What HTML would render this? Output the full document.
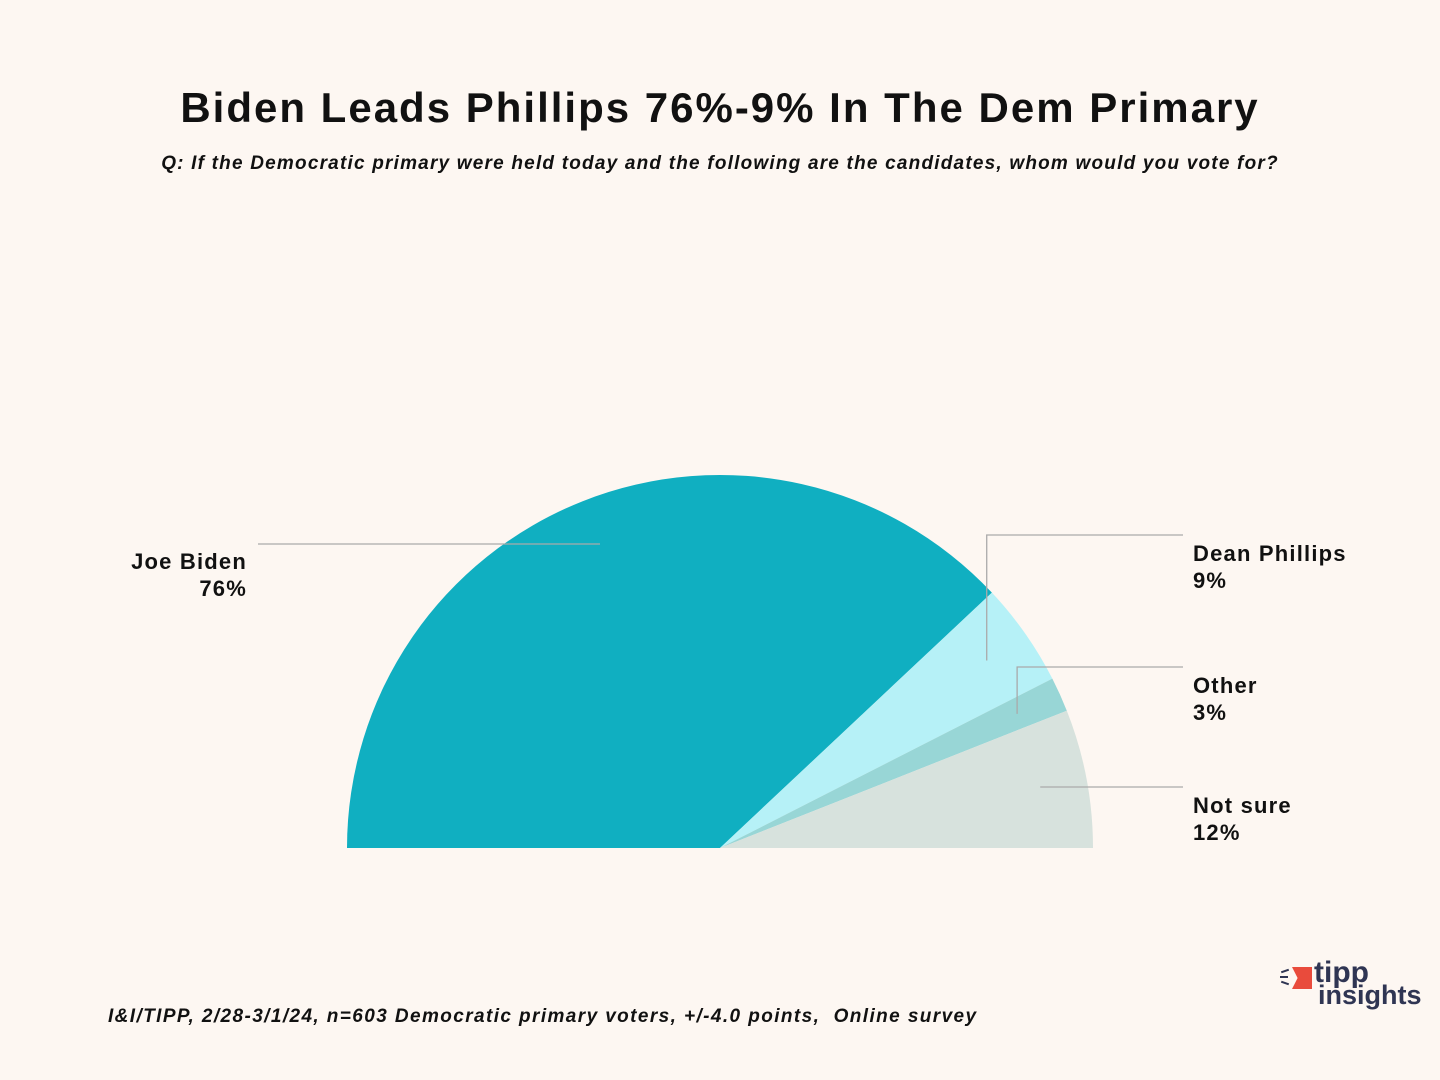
<!DOCTYPE html>
<html><head><meta charset="utf-8"><style>
body{margin:0;background:#fdf7f2;}
#c{position:relative;width:1440px;height:1080px;background:#fdf7f2;font-family:"Liberation Sans",sans-serif;color:#111;}
.t{position:absolute;white-space:nowrap;}
</style></head><body>
<div id="c">
<div class="t" style="left:0;width:1440px;text-align:center;top:84px;font-size:42px;font-weight:bold;letter-spacing:2px;">Biden Leads Phillips 76%-9% In The Dem Primary</div>
<div class="t" style="left:0;width:1440px;text-align:center;top:153px;font-size:19px;font-weight:bold;font-style:italic;letter-spacing:1.2px;">Q: If the Democratic primary were held today and the following are the candidates, whom would you vote for?</div>
<svg id="pie" width="1440" height="1080" style="position:absolute;left:0;top:0"></svg>
<div class="t" style="left:108px;top:1006px;font-size:19px;font-weight:bold;font-style:italic;letter-spacing:1.4px;">I&amp;I/TIPP, 2/28-3/1/24, n=603 Democratic primary voters, +/-4.0 points,&nbsp; Online survey</div>
<div style="position:absolute;left:1280px;top:962px;">
<div style="position:absolute;left:1px;top:8px;width:8px;height:2px;background:#2f3553;transform:rotate(-20deg);"></div>
<div style="position:absolute;left:0px;top:14px;width:8px;height:2px;background:#2f3553;"></div>
<div style="position:absolute;left:1px;top:20px;width:8px;height:2px;background:#2f3553;transform:rotate(20deg);"></div>
<div style="position:absolute;left:12px;top:5px;width:20px;height:22px;background:#e94b3c;clip-path:polygon(0 0,100% 0,100% 100%,0 100%,28% 50%);"></div>
<div class="t" style="left:34px;top:-6px;font-size:30px;font-weight:bold;color:#2f3553;">tipp</div>
<div class="t" style="left:38px;top:18px;font-size:27px;font-weight:bold;color:#2f3553;">insights</div>
</div>
</div>
<script>
const categories=["Joe Biden","Dean Phillips","Other","Not sure"];
const values=[76,9,3,12];
const labels=["76%","9%","3%","12%"];
const colors=["#10afc1","#b6f1f7","#98d6d6","#d7e2dd"];
const svg=document.getElementById('pie');
const NS='http://www.w3.org/2000/svg';
const cx=720,cy=848,R=373;
const total=values.reduce((a,b)=>a+b,0);
function pt(a){return [cx+R*Math.cos(a),cy-R*Math.sin(a)];}
let ang=Math.PI;
const mids=[];
values.forEach((v,i)=>{
  const a2=ang-v/total*Math.PI;
  const p1=pt(ang),p2=pt(a2);
  const large=(ang-a2)>Math.PI?1:0;
  const path=document.createElementNS(NS,'path');
  path.setAttribute('d',`M${cx},${cy} L${p1[0]},${p1[1]} A${R},${R} 0 ${large} 1 ${p2[0]},${p2[1]} Z`);
  path.setAttribute('fill',colors[i]);
  
  
  svg.appendChild(path);
  mids.push((ang+a2)/2);
  ang=a2;
});
const labelY=[544,535,667,787];
const rightSide=[false,true,true,true];
mids.forEach((m,i)=>{
  const r=326;
  const ax=cx+r*Math.cos(m), ay=cy-r*Math.sin(m);
  const ln=document.createElementNS(NS,'polyline');
  let pts;
  if(!rightSide[i]) pts=`258,${labelY[i]} ${ax},${labelY[i]}`;
  else if(Math.abs(ay-labelY[i])<8) pts=`${ax},${labelY[i]} 1183,${labelY[i]}`;
  else pts=`${ax},${ay} ${ax},${labelY[i]} 1183,${labelY[i]}`;
  ln.setAttribute('points',pts);
  ln.setAttribute('fill','none');ln.setAttribute('stroke','#aaa');ln.setAttribute('stroke-width','1.3');
  
  
  svg.appendChild(ln);
  const tx=document.createElementNS(NS,'text');
  tx.setAttribute('font-size','22');tx.setAttribute('font-weight','bold');tx.setAttribute('fill','#111');
  tx.setAttribute('letter-spacing','1.2');
  tx.setAttribute('font-family','Liberation Sans, sans-serif');
  const x=rightSide[i]?1193:247;
  tx.setAttribute('text-anchor',rightSide[i]?'start':'end');
  const base=rightSide[i]?labelY[i]+26:labelY[i]+25;
  const t1=document.createElementNS(NS,'tspan');t1.setAttribute('x',x);t1.setAttribute('y',base);t1.textContent=categories[i];
  const t2=document.createElementNS(NS,'tspan');t2.setAttribute('x',x);t2.setAttribute('y',base+27);t2.textContent=labels[i];
  tx.appendChild(t1);tx.appendChild(t2);
  
  
  svg.appendChild(tx);
});
</script>
</body></html>
